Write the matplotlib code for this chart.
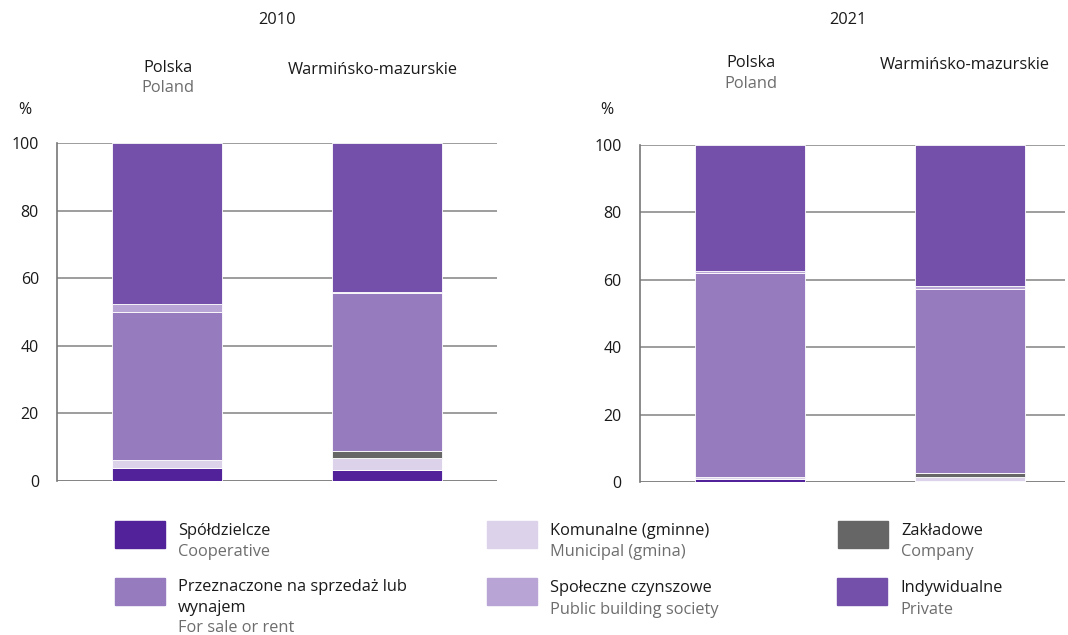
import matplotlib
matplotlib.use("Agg")
import matplotlib.pyplot as plt
from matplotlib.patches import Rectangle
import numpy as np

plt.rcParams['font.family'] = ['Open Sans', 'DejaVu Sans']

# ---- data ----
years = ["2010", "2021"]
regions_pl = ["Polska", "Warmińsko-mazurskie"]
regions_en = ["Poland", ""]
series_pl = ["Spółdzielcze", "Komunalne (gminne)", "Zakładowe",
             "Przeznaczone na sprzedaż lub\nwynajem", "Społeczne czynszowe", "Indywidualne"]
series_en = ["Cooperative", "Municipal (gmina)", "Company",
             "For sale or rent", "Public building society", "Private"]
colors = ["#52229a", "#dcd3ea", "#666666", "#967bbf", "#b8a5d6", "#7450ab"]

# values per year: [Polska, Warmińsko-mazurskie]
cooperative = {"2010": [3.8, 3.3], "2021": [0.9, 0.4]}
municipal   = {"2010": [2.4, 3.5], "2021": [0.5, 1.2]}
company     = {"2010": [0.1, 2.0], "2021": [0.1, 1.0]}
for_sale    = {"2010": [43.8, 46.8], "2021": [60.6, 54.6]}
social      = {"2010": [2.3, 0.4], "2021": [0.5, 1.0]}
private     = {"2010": [47.6, 44.0], "2021": [37.4, 41.8]}
series_vals = [cooperative, municipal, company, for_sale, social, private]
yticks = [0, 20, 40, 60, 80, 100]

W, H = 1068, 635
fig = plt.figure(figsize=(W / 100, H / 100), dpi=100)

def fx(px):
    return px / W

def fy(py):
    return 1 - py / H

FS = 11.8
axes_px = [(57, 497, 143, 481), (639.5, 1065, 145, 482)]
xmax = [2.0, (1065 - 639.5) / 220.0]

for i, yr in enumerate(years):
    x0, x1, ytop, ybot = axes_px[i]
    ax = fig.add_axes([fx(x0), fy(ybot), fx(x1 - x0), (ybot - ytop) / H])
    ax.set_ylim(0, 100)
    ax.set_xlim(0, xmax[i])
    for y in yticks:
        ax.axhline(y, color="#6e6e6e" if y == 0 else "#8c8c8c", lw=1.2, zorder=0)
    pos = np.array([0.5, 1.5])
    bottom = np.zeros(2)
    for s, c in zip(series_vals, colors):
        v = np.array(s[yr])
        ax.bar(pos, v, width=0.5, bottom=bottom, color=c, edgecolor="white",
               linewidth=0.6, zorder=2)
        bottom += v
    for sp in ["top", "right", "bottom"]:
        ax.spines[sp].set_visible(False)
    ax.spines["left"].set_color("#777777")
    ax.spines["left"].set_linewidth(1.2)
    ax.set_xticks([])
    ax.set_yticks(yticks)
    ax.tick_params(axis="y", length=0, pad=13, labelsize=11.5, labelcolor="#1a1a1a")

# headers (figure coords)
hdr = [
    (277, 20, "2010", "#1a1a1a"), (848, 20, "2021", "#1a1a1a"),
    (168, 68, regions_pl[0], "#1a1a1a"), (168, 88, regions_en[0], "#6d6d6d"),
    (373, 70, regions_pl[1], "#1a1a1a"),
    (751, 63, regions_pl[0], "#1a1a1a"), (751, 84, regions_en[0], "#6d6d6d"),
    (965, 65, regions_pl[1], "#1a1a1a"),
]
for x, y, t, c in hdr:
    if t:
        fig.text(fx(x), fy(y), t, ha="center", va="center", fontsize=FS, color=c)
fig.text(fx(25), fy(110), "%", ha="center", va="center", fontsize=11.5, color="#1a1a1a")
fig.text(fx(607), fy(110), "%", ha="center", va="center", fontsize=11.5, color="#1a1a1a")

# legend
leg_pos = [(115, 521), (487, 521), (838, 521), (115, 578), (487, 578), (837, 578)]
for (x, y), c, tp, te in zip(leg_pos, colors, series_pl, series_en):
    fig.patches.append(Rectangle((fx(x), fy(y + 27)), fx(50), 27 / H,
                                 transform=fig.transFigure, color=c, figure=fig))
    tx = x + 63
    lines = tp.split("\n")
    ty = y + 10 if len(lines) == 1 else y + 9
    step = 21.5 if len(lines) == 1 else 20.5
    for ln in lines:
        fig.text(fx(tx), fy(ty), ln, ha="left", va="center", fontsize=FS, color="#1a1a1a")
        ty += step
    fig.text(fx(tx), fy(ty), te, ha="left", va="center", fontsize=FS, color="#6d6d6d")

fig.savefig("out.png", dpi=100)
